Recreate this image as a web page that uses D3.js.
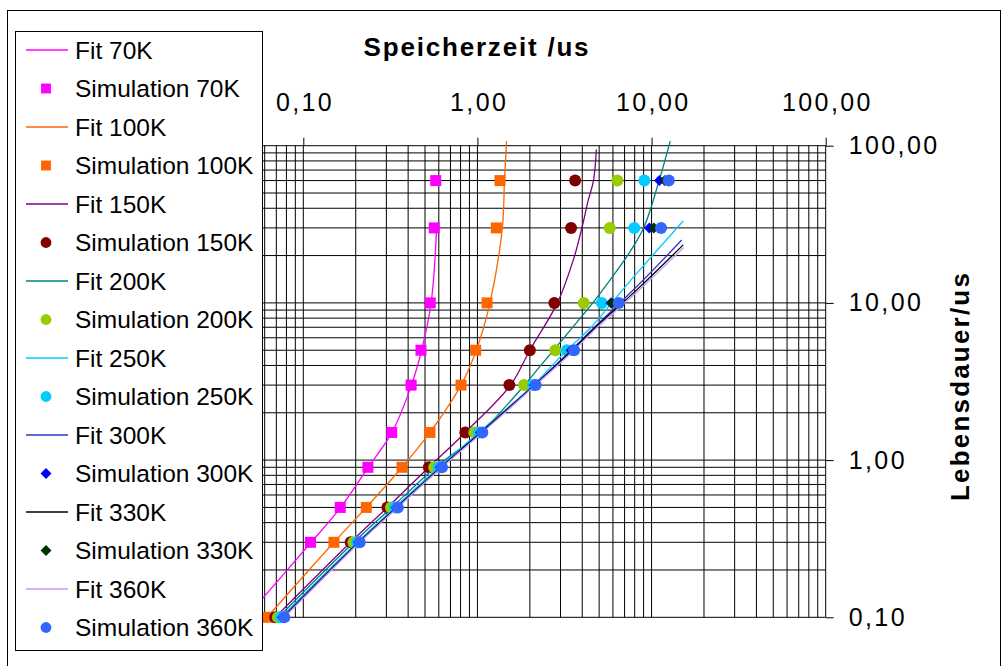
<!DOCTYPE html>
<html>
<head>
<meta charset="utf-8">
<script src="https://cdn.jsdelivr.net/npm/d3@7"></script>
<style>
  body { margin: 0; background: #fff; }
  svg { display: block; font-family: "Liberation Sans", Arial, sans-serif; }
</style>
</head>
<body>
<svg id="chart" width="1006" height="666"></svg>
<script>
// Lebensdauer (us) values at which the simulation points were taken
const simLifetime = [0.1, 0.3, 0.5, 0.9, 1.5, 3, 5, 10, 30, 60];

// Speicherzeit (us) of the simulation points, one array per temperature
const simTime70K = [0.047, 0.110, 0.163, 0.235, 0.322, 0.416, 0.474, 0.536, 0.565, 0.576];
const simTime100K = [0.062, 0.150, 0.230, 0.369, 0.534, 0.805, 0.977, 1.136, 1.284, 1.348];
const simTime150K = [0.069, 0.187, 0.304, 0.526, 0.852, 1.525, 2.00, 2.765, 3.45, 3.64];
const simTime200K = [0.0715, 0.194, 0.319, 0.565, 0.960, 1.853, 2.80, 4.08, 5.75, 6.36];
const simTime250K = [0.0745, 0.204, 0.336, 0.600, 1.02, 2.09, 3.26, 5.18, 7.96, 9.09];
const simTime300K = [0.076, 0.207, 0.342, 0.612, 1.04, 2.12, 3.45, 5.85, 9.71, 11.09];
const simTime330K = [0.077, 0.209, 0.345, 0.620, 1.05, 2.14, 3.50, 5.90, 10.3, 11.9];
const simTime360K = [0.0778, 0.211, 0.349, 0.626, 1.067, 2.16, 3.59, 6.48, 11.34, 12.56];

// Fit curves (Speicherzeit / Lebensdauer pairs)
const fitTime70K = [0.047, 0.111, 0.164, 0.236, 0.323, 0.418, 0.478, 0.542, 0.583];
const fitLife70K = [0.1, 0.3, 0.5, 0.9, 1.5, 3, 5, 10, 30];
const fitTime100K = [0.062, 0.150, 0.230, 0.369, 0.534, 0.805, 0.985, 1.18, 1.39, 1.43, 1.47];
const fitLife100K = [0.1, 0.3, 0.5, 0.9, 1.5, 3, 5, 10, 30, 60, 107];
const fitTime150K = [0.069, 0.187, 0.304, 0.526, 0.852, 1.55, 2.0, 2.88, 3.55, 3.98, 4.33, 4.64, 4.82];
const fitLife150K = [0.1, 0.3, 0.5, 0.9, 1.5, 3, 5, 10, 18.7, 30, 45, 60, 94.6];
const fitTime200K = [0.072, 0.195, 0.322, 0.575, 1.03, 1.84, 2.28, 3.55, 4.82, 5.78, 7.2, 9.0, 11.05, 12.8];
const fitLife200K = [0.1, 0.3, 0.5, 0.9, 1.48, 2.95, 3.93, 7.06, 10.7, 14, 19.7, 30, 60, 107];
const fitTime250K = [0.0745, 0.204, 0.336, 0.60, 1.02, 2.09, 3.26, 4.44, 5.9, 8.22, 15.2];
const fitLife250K = [0.1, 0.3, 0.5, 0.9, 1.5, 3, 5, 6.9, 10, 15.4, 33.2];
const fitTime300K = [0.076, 0.207, 0.342, 0.612, 1.04, 2.12, 3.45, 4.64, 8.22, 14.9];
const fitLife300K = [0.1, 0.3, 0.5, 0.9, 1.5, 3, 5, 6.9, 12.7, 25.1];
const fitTime330K = [0.077, 0.209, 0.345, 0.620, 1.05, 2.14, 3.50, 4.70, 8.22, 15.2];
const fitLife330K = [0.1, 0.3, 0.5, 0.9, 1.5, 3, 5, 6.9, 12.1, 23.4];
const fitTime360K = [0.0778, 0.211, 0.349, 0.626, 1.067, 2.16, 3.59, 4.75, 8.3, 15.3];
const fitLife360K = [0.1, 0.3, 0.5, 0.9, 1.5, 3, 5, 6.8, 11.8, 22.5];

const axisTicks = [0.1, 1, 10, 100];

const zip = (xs, ys) => xs.map((v, i) => [v, ys[i]]);

// series table built from the arrays above (style per temperature)
const series = [
  {name: '70K', fit: zip(fitTime70K, fitLife70K), sim: zip(simTime70K, simLifetime), line: '#ff00ff', marker: '#ff00ff', shape: 'square'},
  {name: '100K', fit: zip(fitTime100K, fitLife100K), sim: zip(simTime100K, simLifetime), line: '#ff6600', marker: '#ff6600', shape: 'square'},
  {name: '150K', fit: zip(fitTime150K, fitLife150K), sim: zip(simTime150K, simLifetime), line: '#800080', marker: '#800000', shape: 'circle'},
  {name: '200K', fit: zip(fitTime200K, fitLife200K), sim: zip(simTime200K, simLifetime), line: '#008080', marker: '#99cc00', shape: 'circle'},
  {name: '250K', fit: zip(fitTime250K, fitLife250K), sim: zip(simTime250K, simLifetime), line: '#00ccff', marker: '#00ccff', shape: 'circle'},
  {name: '300K', fit: zip(fitTime300K, fitLife300K), sim: zip(simTime300K, simLifetime), line: '#3333cc', marker: '#0000ff', shape: 'diamond'},
  {name: '330K', fit: zip(fitTime330K, fitLife330K), sim: zip(simTime330K, simLifetime), line: '#000000', marker: '#003300', shape: 'diamond'},
  {name: '360K', fit: zip(fitTime360K, fitLife360K), sim: zip(simTime360K, simLifetime), line: '#cc99ff', marker: '#3366ff', shape: 'circle'}
];

const svg = d3.select('#chart');
const plot = {left: 129, right: 825.7, top: 145.7, bottom: 617.3};

const x = d3.scaleLog().domain([0.1, 100]).range([303.3, plot.right]);
const y = d3.scaleLog().domain([0.1, 100]).range([plot.bottom, plot.top]);

// outer chart frame
svg.append('rect')
  .attr('x', 7.5).attr('y', 10.5)
  .attr('width', 993).attr('height', 670)
  .attr('fill', '#fff')
  .attr('stroke', '#000');

// grid: every 1..9 of each decade
const gridX = [];
[0.01, 0.1, 1, 10].forEach(dec => d3.range(1, 10).forEach(k => gridX.push(dec * k)));
gridX.push(100);
const gridY = [];
[0.1, 1, 10].forEach(dec => d3.range(1, 10).forEach(k => gridY.push(dec * k)));
gridY.push(100);

const grid = svg.append('g').attr('stroke', '#000').attr('stroke-width', 1);
grid.selectAll('.gx')
  .data(gridX)
  .join('line')
  .attr('class', 'gx')
  .attr('x1', d => x(d)).attr('x2', d => x(d))
  .attr('y1', plot.top).attr('y2', plot.bottom);
grid.selectAll('.gy')
  .data(gridY)
  .join('line')
  .attr('class', 'gy')
  .attr('x1', plot.left).attr('x2', plot.right)
  .attr('y1', d => y(d)).attr('y2', d => y(d));

// axes
const fmt = d => d3.format('.2f')(d).replace('.', ',');

const xAxis = svg.append('g')
  .attr('transform', `translate(0, ${plot.top})`)
  .call(d3.axisTop(x).tickValues(axisTicks).tickFormat(fmt).tickSize(8).tickSizeOuter(0).tickPadding(27));
const yAxis = svg.append('g')
  .attr('transform', `translate(${plot.right}, 0)`)
  .call(d3.axisRight(y).tickValues(axisTicks).tickFormat(fmt).tickSize(8).tickSizeOuter(0).tickPadding(15));

[xAxis, yAxis].forEach(ax => {
  ax.attr('font-family', null).attr('font-size', null);
  ax.select('.domain').remove();
  ax.selectAll('line').attr('stroke', '#000');
  ax.selectAll('text')
    .attr('fill', '#000')
    .attr('font-size', 25)
    .attr('letter-spacing', '2.4px');
});
xAxis.selectAll('text').attr('dx', '1.2px');

// axis titles
svg.append('text')
  .attr('x', 477).attr('y', 56)
  .attr('text-anchor', 'middle')
  .attr('font-size', 26)
  .attr('font-weight', 'bold')
  .attr('letter-spacing', '1.8px')
  .text('Speicherzeit /us');

svg.append('text')
  .attr('transform', 'translate(969, 386) rotate(-90)')
  .attr('text-anchor', 'middle')
  .attr('font-size', 26)
  .attr('font-weight', 'bold')
  .attr('letter-spacing', '2.2px')
  .text('Lebensdauer/us');

// marker helper
function marker(sel, shape, color, scale) {
  if (shape === 'circle') {
    sel.append('circle').attr('r', 6 * scale).attr('fill', color);
  } else if (shape === 'square') {
    sel.append('rect')
      .attr('x', -5.5 * scale).attr('y', -5.5 * scale)
      .attr('width', 11 * scale).attr('height', 11 * scale)
      .attr('fill', color);
  } else {
    const s = 5.5 * scale;
    sel.append('path').attr('d', `M0,${-s}L${s},0L0,${s}L${-s},0Z`).attr('fill', color);
  }
}

const fitLine = d3.line()
  .x(d => x(d[0]))
  .y(d => y(d[1]))
  .curve(d3.curveCatmullRom.alpha(0.5));

// series: fit then simulation, in legend order
series.forEach(s => {
  svg.append('path')
    .datum(s.fit)
    .attr('fill', 'none')
    .attr('stroke', s.line)
    .attr('stroke-width', 1.3)
    .attr('d', fitLine);

  svg.append('g')
    .selectAll('g')
    .data(s.sim)
    .join('g')
    .attr('transform', d => `translate(${x(d[0])}, ${y(d[1])})`)
    .each(function () { marker(d3.select(this), s.shape, s.marker, 1); });
});

// legend (sits on top of the left part of the plot)
const legend = svg.append('g');
legend.append('rect')
  .attr('x', 15.5).attr('y', 31.5)
  .attr('width', 247).attr('height', 619)
  .attr('fill', '#fff')
  .attr('stroke', '#000');

const legendRows = [];
series.forEach(s => {
  legendRows.push({label: 'Fit ' + s.name, kind: 'line', s: s});
  legendRows.push({label: 'Simulation ' + s.name, kind: 'marker', s: s});
});

const row = legend.selectAll('.row')
  .data(legendRows)
  .join('g')
  .attr('class', 'row')
  .attr('transform', (d, i) => `translate(0, ${50 + i * 38.5})`);

row.each(function (d) {
  const g = d3.select(this);
  if (d.kind === 'line') {
    g.append('line')
      .attr('x1', 26).attr('x2', 68)
      .attr('stroke', d.s.line)
      .attr('stroke-width', 1.3);
  } else {
    const m = g.append('g').attr('transform', 'translate(46, 0)');
    marker(m, d.s.shape, d.s.marker, d.s.shape === 'diamond' ? 1.0 : 0.9);
  }
});

row.append('text')
  .attr('x', 75)
  .attr('dy', '0.36em')
  .attr('font-size', 24.5)
  .attr('fill', '#000')
  .text(d => d.label);
</script>
</body>
</html>
